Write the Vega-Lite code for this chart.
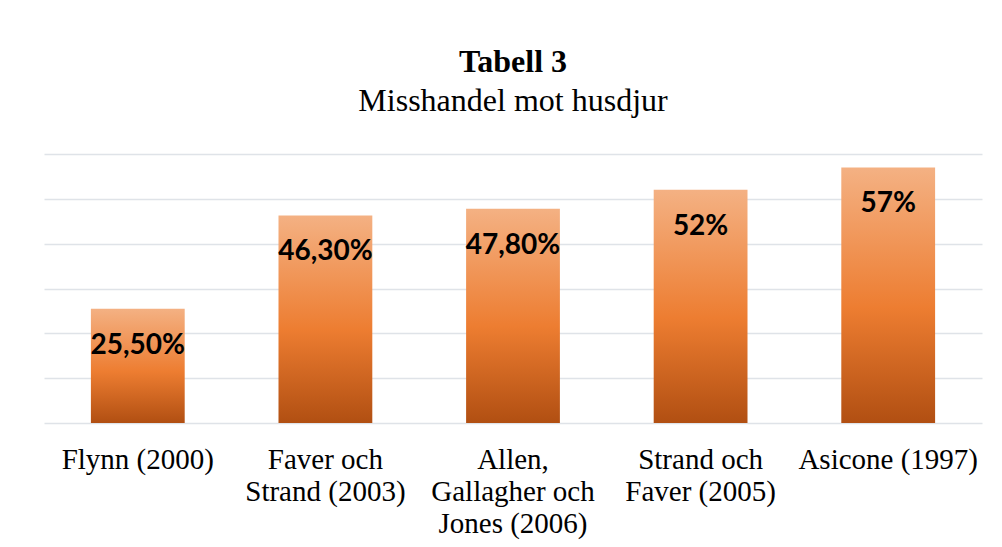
{
  "$schema": "https://vega.github.io/schema/vega-lite/v6.json",
  "width": 938,
  "height": 269,
  "autosize": {"type": "none"},
  "padding": {"left": 44, "top": 154, "right": 20, "bottom": 124},
  "background": "white",
  "title": {
    "text": "Tabell 3",
    "subtitle": "Misshandel mot husdjur",
    "anchor": "middle",
    "font": "Liberation Serif",
    "fontSize": 32,
    "fontWeight": "bold",
    "color": "black",
    "subtitleFont": "Liberation Serif",
    "subtitleFontSize": 32,
    "subtitleColor": "black",
    "subtitlePadding": 7,
    "offset": 36
  },
  "data": {
    "values": [
      {"studie": "Flynn (2000)", "andel": 0.255, "etikett": "25,50%"},
      {"studie": "Faver och|Strand (2003)", "andel": 0.463, "etikett": "46,30%"},
      {"studie": "Allen,|Gallagher och|Jones (2006)", "andel": 0.478, "etikett": "47,80%"},
      {"studie": "Strand och|Faver (2005)", "andel": 0.52, "etikett": "52%"},
      {"studie": "Asicone (1997)", "andel": 0.57, "etikett": "57%"}
    ]
  },
  "encoding": {
    "x": {
      "field": "studie",
      "type": "nominal",
      "sort": null,
      "scale": {"paddingInner": 0.5, "paddingOuter": 0.25},
      "axis": {
        "title": null,
        "labelAngle": 0,
        "labelExpr": "split(datum.label, '|')",
        "labelFont": "Liberation Serif",
        "labelFontSize": 29,
        "labelLineHeight": 32,
        "labelColor": "black",
        "labelBaseline": "top",
        "labelPadding": 22,
        "labelLimit": 0,
        "ticks": false,
        "tickSize": 0,
        "domain": false,
        "grid": false
      }
    },
    "y": {
      "field": "andel",
      "type": "quantitative",
      "scale": {"domain": [0, 0.6], "nice": false},
      "axis": {
        "title": null,
        "labels": false,
        "ticks": false,
        "domain": false,
        "grid": true,
        "gridColor": "#dfe3e8",
        "gridWidth": 1.5,
        "values": [0, 0.1, 0.2, 0.3, 0.4, 0.5, 0.6]
      }
    }
  },
  "layer": [
    {
      "mark": {
        "type": "bar",
        "color": {
          "gradient": "linear",
          "x1": 0, "y1": 0, "x2": 0, "y2": 1,
          "stops": [
            {"offset": 0, "color": "#f4b183"},
            {"offset": 0.55, "color": "#ed7d31"},
            {"offset": 1, "color": "#b14f12"}
          ]
        }
      }
    },
    {
      "mark": {
        "type": "text",
        "font": "Lato",
        "fontWeight": "bold",
        "fontSize": 28,
        "color": "black",
        "baseline": "alphabetic",
        "align": "center",
        "dy": 45
      },
      "encoding": {"text": {"field": "etikett"}}
    }
  ],
  "config": {"view": {"stroke": null}}
}
